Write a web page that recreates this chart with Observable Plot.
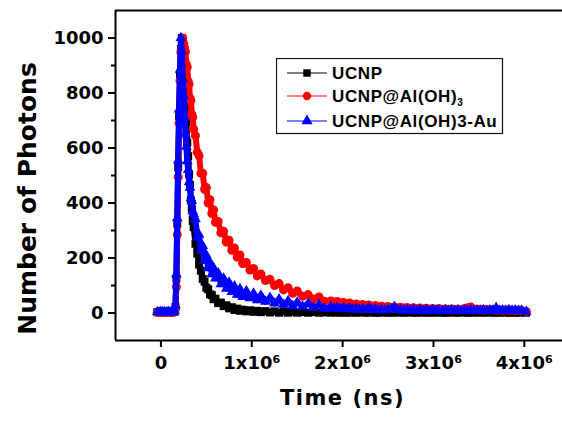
<!DOCTYPE html>
<html>
<head>
<meta charset="utf-8">
<script src="https://cdn.jsdelivr.net/npm/d3@7"></script>
<script src="https://cdn.jsdelivr.net/npm/@observablehq/plot@0.6"></script>
<style>
  html, body { margin: 0; padding: 0; background: #fff; }
  #wrap { position: relative; width: 562px; height: 421px; overflow: hidden; }
  #legend { position: absolute; left: 276px; top: 58px; }
</style>
</head>
<body>
<div id="wrap"></div>
<script>
// ---- data ----
const timeNs = [
  -40000, -20000, 0, 20000, 40000, 60000, 80000, 100000, 120000, 140000,
  150000, 160000, 170000, 180000, 190000, 200000, 210000, 220000, 230000, 240000, 250000,
  260000, 270000, 280000, 290000, 300000, 310000, 320000, 330000, 340000, 350000, 360000,
  380000, 400000, 420000, 440000, 460000, 480000, 500000, 520000, 540000, 560000, 580000, 600000,
  630000, 660000, 690000, 720000, 750000, 780000, 810000, 840000, 870000, 900000,
  940000, 980000, 1020000, 1060000, 1100000,
  1150000, 1200000, 1250000, 1300000, 1350000, 1400000, 1450000, 1500000,
  1560000, 1620000, 1680000, 1740000, 1800000,
  1870000, 1905000, 1940000, 1975000, 2010000, 2045000, 2080000, 2115000, 2150000, 2185000,
  2220000, 2255000, 2290000, 2325000, 2360000, 2395000, 2430000, 2465000, 2500000, 2535000,
  2570000, 2605000, 2640000, 2675000, 2710000, 2745000, 2780000, 2815000, 2850000, 2885000,
  2920000, 2955000, 2990000, 3025000, 3060000, 3095000, 3130000, 3165000, 3200000, 3235000,
  3270000, 3305000, 3340000, 3375000, 3410000, 3445000, 3480000, 3515000, 3550000, 3585000,
  3620000, 3655000, 3690000, 3725000, 3760000, 3795000, 3830000, 3865000, 3900000, 3935000,
  3970000, 4020000
];
const ucnp = [
  3, 4, 2, 5, 3, 4, 2, 5, 3, 4,
  6, 22, 125, 325, 530, 715, 870, 960, 1000, 955, 905,
  835, 755, 695, 620, 570, 505, 465, 410, 380, 335, 312,
  252, 216, 176, 154, 124, 114, 92, 86, 68, 65, 50, 52,
  36, 38, 25, 28, 17, 21, 11, 16, 8, 12,
  6, 10, 4, 8, 3,
  7, 2, 6, 1, 5, 1, 4, 1,
  3, 1, 3, 1, 2,
  1, 3, 2, 1, 3, 1, 2, 3, 1, 2,
  3, 1, 2, 3, 1, 1, 3, 2, 1, 3,
  1, 2, 3, 1, 2, 3, 1, 1, 3, 2,
  1, 3, 1, 2, 3, 1, 2, 1, 3, 2,
  1, 3, 2, 1, 3, 1, 2, 3, 1, 2,
  3, 1, 2, 1, 3, 2, 1, 3, 1, 2,
  2, 1
];
const ucnpAl = [
  2, 5, 3, 4, 2, 5, 3, 4, 2, 5,
  4, 15, 95, 285, 495, 690, 845, 950, 995, 1000, 980,
  965, 950, 905, 895, 842, 832, 782, 772, 722, 712, 668,
  645, 585, 572, 508, 508, 450, 456, 400, 412, 362, 375, 330,
  333, 292, 297, 258, 265, 228, 236, 203, 211, 180,
  184, 156, 162, 135, 142,
  118, 123, 100, 107, 84, 92, 72, 80,
  61, 67, 51, 58, 43,
  44, 39, 42, 36, 38, 33, 36, 30, 33, 28,
  31, 26, 29, 24, 27, 22, 25, 21, 24, 19,
  22, 18, 21, 17, 20, 16, 19, 15, 18, 14,
  17, 14, 16, 13, 16, 13, 15, 12, 15, 12,
  14, 12, 16, 19, 22, 15, 12, 14, 11, 13,
  11, 13, 10, 12, 10, 12, 10, 11, 9, 11,
  9, 6
];
const ucnpAlAu = [
  4, 2, 5, 3, 4, 2, 5, 3, 4, 2,
  8, 28, 140, 345, 555, 740, 885, 1000, 950, 850, 790,
  710, 650, 605, 552, 520, 476, 456, 418, 408, 370, 360,
  342, 275, 285, 226, 244, 190, 210, 163, 184, 141, 164, 126,
  145, 105, 126, 89, 111, 77, 97, 67, 87, 59,
  80, 54, 71, 47, 64,
  41, 56, 35, 50, 30, 44, 26, 39,
  23, 34, 19, 30, 16,
  22, 17, 20, 15, 18, 14, 17, 13, 16, 12,
  15, 12, 19, 11, 14, 10, 13, 10, 12, 14,
  22, 11, 12, 9, 12, 9, 13, 8, 11, 9,
  12, 8, 11, 9, 10, 8, 11, 8, 10, 8,
  11, 8, 10, 8, 11, 8, 10, 8, 11, 8,
  10, 9, 19, 9, 10, 8, 11, 8, 10, 8,
  9, 5
];
const seriesNames = ["UCNP", "UCNP@Al(OH)3", "UCNP@Al(OH)3-Au"];
const seriesColors = ["#000000", "#ff0000", "#0000ff"];
const seriesSymbols = ["square", "circle", "triangle"];
const seriesR = [4.5, 4.5, 4];
const yMajorTicks = [0, 200, 400, 600, 800, 1000];
const yMinorTicks = [100, 300, 500, 700, 900];
const xTicks = [0, 1000000, 2000000, 3000000, 4000000];

const seriesValues = [ucnp, ucnpAl, ucnpAlAu];
const tables = seriesValues.map((vals, i) =>
  timeNs.map((t, j) => ({t, v: vals[j], s: seriesNames[i]})));

const marks = [];
tables.forEach((tab, i) => {
  // dense-point look: thick band of the series colour under the markers
  marks.push(Plot.line(tab, {x: "t", y: "v", stroke: seriesColors[i], strokeWidth: 6, strokeLinejoin: "round", strokeLinecap: "round"}));
  marks.push(Plot.dot(tab, {x: "t", y: "v", symbol: () => seriesSymbols[i], fill: seriesColors[i], stroke: "none", r: seriesR[i]}));
});

const fmtX = d => d === 0 ? "0" : `${d / 1e6}x10\u2076`;

const plot = Plot.plot({
  width: 562,
  height: 421,
  marginLeft: 115,
  marginRight: 0,
  marginTop: 10,
  marginBottom: 81,
  style: {fontFamily: "DejaVu Sans", fontWeight: "bold", background: "white", color: "black", overflow: "hidden"},
  x: {domain: [-500000, 4420000]},
  y: {domain: [-100, 1100]},
  symbol: {type: "identity"},
  marks: [
    ...marks,
    Plot.ruleX([-500000], {strokeWidth: 2}),
    Plot.ruleY([-100], {strokeWidth: 2}),
    Plot.ruleY([1100], {strokeWidth: 2}),
    Plot.axisY({ticks: yMajorTicks, tickSize: 7, tickPadding: 5, tickFormat: d => String(d), label: null, fontSize: 18, strokeWidth: 2}),
    Plot.axisY({ticks: yMinorTicks, tickSize: 4, tickFormat: () => "", label: null, strokeWidth: 2}),
    Plot.axisX({ticks: xTicks, tickSize: 7, tickPadding: 9, tickFormat: fmtX, label: null, fontSize: 18, strokeWidth: 2}),
    Plot.text(["Number of Photons"], {text: d => d, frameAnchor: "left", textAnchor: "middle", rotate: -90, dx: -88, dy: 23, fontSize: 25, fontWeight: "bold", className: "ytitle"}),
    Plot.text(["Time (ns)"], {text: d => d, frameAnchor: "bottom", dx: 3.5, dy: 64, fontSize: 21, fontWeight: "bold", className: "xtitle"})
  ]
});
document.getElementById("wrap").appendChild(plot);
d3.select(plot).selectAll(".xtitle text").style("letter-spacing", "1.5px");

// ---- legend ----
const lg = d3.select("#wrap").append("svg").attr("id", "legend")
  .attr("width", 228).attr("height", 77);
lg.append("rect").attr("x", 0.5).attr("y", 0.5).attr("width", 226).attr("height", 75)
  .attr("fill", "white").attr("stroke", "#111").attr("stroke-width", 1.2);
const rowsY = [15, 38, 63];
seriesNames.forEach((name, i) => {
  const y = rowsY[i];
  lg.append("line").attr("x1", 11).attr("x2", 51).attr("y1", y).attr("y2", y)
    .attr("stroke", seriesColors[i]).attr("stroke-width", 1);
  const sym = d3.symbol(i === 0 ? d3.symbolSquare : i === 1 ? d3.symbolCircle : d3.symbolTriangle, 55);
  lg.append("path").attr("d", sym()).attr("transform", `translate(31,${y})`).attr("fill", seriesColors[i]);
  const t = lg.append("text").attr("x", 56).attr("y", y + 6)
    .style("font-family", "'Liberation Sans', Arial, sans-serif").style("font-weight", "bold")
    .style("font-size", "17px").style("letter-spacing", "0.6px");
  if (i === 1) {
    t.append("tspan").text("UCNP@Al(OH)");
    t.append("tspan").text("3").style("font-size", "10px").attr("dy", 4);
  } else {
    t.text(name);
  }
});
</script>
</body>
</html>
